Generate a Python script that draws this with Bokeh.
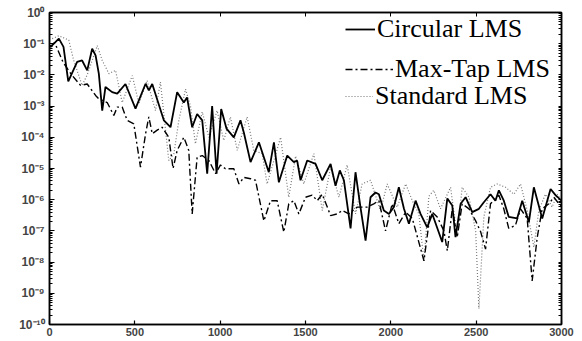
from bokeh.plotting import figure
from bokeh.models import (Range1d, FixedTicker, CustomJSTickFormatter, LinearAxis, LogAxis,
                          Legend, LegendItem)
from bokeh.embed import file_html
from bokeh.resources import INLINE

# ---------------- data ----------------
circ_x = [5, 55, 82, 110, 162, 191, 221, 250, 270, 289, 309, 328, 367, 397, 445, 504, 563, 582, 602,
          670, 709, 748, 787, 806, 836, 865, 895, 924, 953, 979, 1006, 1037, 1080, 1119, 1139, 1178,
          1227, 1285, 1315, 1344, 1393, 1432, 1451, 1471, 1510, 1559, 1598, 1647, 1676, 1701, 1725,
          1764, 1793, 1822, 1852, 1881, 1910, 1930, 1959, 1989, 2018, 2047, 2077, 2106, 2145, 2174,
          2213, 2243, 2301, 2331, 2360, 2379, 2409, 2438, 2477, 2516, 2545, 2584, 2613, 2633, 2662,
          2691, 2740, 2770, 2809, 2838, 2887, 2936, 2965, 3000]
circ_y = [7.8e-2, 1.45e-1, 7.9e-2, 6.2e-3, 2.6e-2, 2.9e-2, 1.4e-2, 6.9e-2, 4.2e-2, 1.1e-2, 7.2e-4,
          4.1e-3, 2.8e-3, 2.5e-3, 5.1e-3, 8.3e-4, 5.2e-3, 3.2e-3, 5.1e-3, 3.5e-4, 2.1e-4, 2.8e-3,
          1.3e-3, 1.9e-3, 2.1e-4, 5.6e-4, 3.5e-4, 6.8e-6, 1.0e-3, 6.8e-6, 8.1e-4, 1.9e-4, 1.0e-4,
          3.5e-4, 1.4e-4, 1.6e-5, 6.9e-5, 7.6e-6, 6.9e-5, 3.6e-6, 2.6e-5, 1.6e-5, 1.8e-5, 4.2e-6,
          1.8e-5, 1.4e-5, 4.2e-6, 1.4e-5, 2.8e-6, 8.7e-6, 4.2e-6, 1.2e-7, 7.6e-6, 5.8e-7, 4.9e-8,
          1.2e-6, 1.7e-6, 1.5e-6, 4.5e-7, 3.5e-7, 5.8e-7, 2.5e-6, 5.1e-7, 1.7e-7, 9.3e-7, 3.5e-7,
          1.3e-7, 3.5e-7, 4.4e-8, 1.1e-6, 6.5e-7, 6.3e-8, 7.4e-7, 1.2e-6, 4.0e-7, 5.1e-7, 8.3e-7,
          1.5e-6, 9.3e-7, 2.0e-6, 9.3e-7, 2.8e-7, 2.5e-7, 9.3e-7, 1.9e-7, 2.5e-6, 2.5e-7, 2.2e-6,
          1.4e-6, 9.3e-7]

maxtap_x = [5, 30, 80, 130, 182, 221, 270, 289, 338, 377, 397, 426, 455, 494, 533, 563, 582, 602,
            631, 660, 699, 724, 748, 787, 816, 836, 865, 895, 934, 973, 1002, 1031, 1080, 1110,
            1139, 1178, 1207, 1256, 1295, 1334, 1373, 1402, 1432, 1461, 1500, 1539, 1569, 1598,
            1647, 1686, 1715, 1754, 1803, 1861, 1900, 1930, 1969, 2008, 2047, 2087, 2126, 2194,
            2233, 2272, 2311, 2331, 2360, 2389, 2418, 2458, 2497, 2526, 2555, 2584, 2633, 2662,
            2691, 2730, 2760, 2799, 2828, 2858, 2887, 2926, 2955, 2985, 3000]
maxtap_y = [7.9e-2, 1.1e-1, 2.5e-2, 1.0e-2, 4.6e-3, 5.1e-3, 2.2e-3, 1.7e-3, 1.3e-3, 5.0e-4, 9.3e-4,
            9.3e-4, 3.5e-4, 2.7e-4, 1.1e-5, 1.3e-4, 4.5e-4, 1.3e-4, 1.7e-4, 2.1e-4, 1.0e-4, 1.0e-5,
            3.8e-5, 1.0e-4, 3.8e-5, 3.5e-7, 2.3e-5, 2.6e-5, 1.8e-5, 6.8e-6, 1.3e-5, 9.8e-6, 9.8e-6,
            3.2e-6, 5.2e-6, 4.7e-6, 4.2e-6, 2.1e-7, 9.3e-7, 9.3e-7, 9.1e-8, 7.4e-7, 9.3e-7, 3.5e-7,
            1.2e-6, 1.4e-6, 9.3e-7, 1.5e-6, 3.1e-7, 3.5e-7, 4.5e-7, 3.5e-7, 5.8e-7, 5.8e-7, 7.4e-7,
            9.3e-7, 1.0e-7, 7.4e-7, 1.7e-7, 4.0e-7, 2.5e-7, 1.1e-8, 4.5e-7, 2.8e-7, 1.0e-7, 2.3e-8,
            5.1e-7, 6.3e-8, 7.4e-7, 5.1e-7, 2.1e-7, 9.5e-8, 2.6e-8, 7.4e-7, 1.4e-6, 5.1e-7, 1.2e-7,
            1.5e-7, 5.1e-7, 2.5e-7, 2.5e-9, 6.3e-8, 5.1e-7, 7.4e-7, 1.2e-6, 7.4e-7, 6.3e-7]

std_x = [16, 55, 113, 142, 191, 221, 280, 309, 348, 387, 426, 485, 524, 572, 621, 650, 699, 729,
         758, 797, 826, 855, 895, 934, 982, 1021, 1060, 1100, 1158, 1197, 1246, 1275, 1315, 1354,
         1402, 1442, 1490, 1549, 1598, 1647, 1696, 1744, 1793, 1832, 1881, 1939, 1979, 2037, 2087,
         2126, 2164, 2194, 2223, 2252, 2291, 2350, 2389, 2418, 2458, 2497, 2516, 2545, 2584, 2623,
         2672, 2721, 2760, 2799, 2838, 2867, 2906, 2945, 2975, 3000]
std_y = [1.45e-1, 1.8e-1, 1.3e-1, 2.9e-2, 4.6e-3, 1.0e-2, 8.7e-2, 2.9e-2, 1.1e-2, 1.4e-2, 1.3e-3,
         9.5e-3, 1.2e-3, 6.6e-3, 7.2e-4, 5.9e-3, 1.8e-5, 3.0e-5, 3.5e-4, 3.5e-3, 1.0e-3, 6.2e-5,
         6.5e-4, 1.0e-4, 7.2e-4, 7.9e-5, 4.5e-4, 3.8e-5, 4.5e-4, 3.8e-5, 3.0e-5, 3.2e-6, 1.8e-5,
         1.0e-4, 1.2e-6, 2.5e-5, 3.2e-6, 3.0e-5, 4.5e-7, 1.1e-5, 1.2e-6, 1.3e-5, 3.5e-7, 3.2e-6,
         4.2e-6, 4.5e-7, 3.2e-6, 5.8e-7, 3.2e-6, 9.3e-7, 3.5e-7, 1.1e-8, 1.3e-6, 2.0e-6, 5.1e-7,
         2.5e-6, 6.3e-8, 2.5e-6, 1.2e-6, 1.0e-7, 3.2e-10, 2.8e-7, 2.5e-6, 3.2e-6, 2.5e-6, 1.5e-6,
         3.2e-6, 4.5e-7, 3.0e-8, 4.5e-7, 1.5e-6, 5.8e-7, 1.5e-6, 9.3e-7]

series_names = ["Circular LMS", "Max-Tap LMS", "Standard LMS"]

xticks = [0, 500, 1000, 1500, 2000, 2500, 3000]
yticks = [1, 1e-1, 1e-2, 1e-3, 1e-4, 1e-5, 1e-6, 1e-7, 1e-8, 1e-9, 1e-10]
ytick_labels = ["10\u2070", "10\u207b\u00b9", "10\u207b\u00b2", "10\u207b\u00b3", "10\u207b\u2074",
                "10\u207b\u2075", "10\u207b\u2076", "10\u207b\u2077", "10\u207b\u2078",
                "10\u207b\u2079", "10\u207b\u00b9\u2070"]
minor_mult = [2, 3, 4, 5, 6, 7, 8, 9]

# ---------------- figure ----------------
p = figure(frame_width=512, frame_height=312, y_axis_type="log",
           x_range=Range1d(0, 3000), y_range=Range1d(1e-10, 1),
           output_backend="svg", toolbar_location=None,
           min_border_left=49, min_border_top=12, min_border_right=13, min_border_bottom=16)
p.background_fill_color = "white"
p.border_fill_color = "white"
p.outline_line_color = "black"
p.outline_line_width = 1.5
p.xgrid.visible = False
p.ygrid.visible = False

y_minor = [m * t for t in yticks[1:] for m in minor_mult]

xa = p.xaxis[0]
xa.ticker = FixedTicker(ticks=xticks, minor_ticks=[])
xa.major_tick_in = 4
xa.major_tick_out = 0
xa.major_label_standoff = 3
xa.major_label_text_font = "Liberation Sans"
xa.major_label_text_font_style = "bold"
xa.major_label_text_font_size = "11px"
xa.axis_line_width = 1.5
xa.major_tick_line_width = 1.2

ya = p.yaxis[0]
ya.ticker = FixedTicker(ticks=yticks, minor_ticks=y_minor)
ya.formatter = CustomJSTickFormatter(args=dict(labels=ytick_labels),
                                     code="return labels[Math.round(-Math.log10(tick))];")
ya.major_tick_in = 5
ya.major_tick_out = 0
ya.minor_tick_in = 3
ya.minor_tick_out = 0
ya.major_label_standoff = 5
ya.major_label_text_font = "Liberation Sans"
ya.major_label_text_font_style = "bold"
ya.major_label_text_font_size = "12px"
ya.axis_line_width = 1.5
ya.major_tick_line_width = 1.2

top_axis = LinearAxis(ticker=FixedTicker(ticks=[], minor_ticks=xticks),
                      minor_tick_in=4, minor_tick_out=0, axis_line_width=1.5)
p.add_layout(top_axis, "above")
right_axis = LogAxis(ticker=FixedTicker(ticks=[], minor_ticks=yticks + y_minor),
                     minor_tick_in=3, minor_tick_out=0, axis_line_width=1.5)
p.add_layout(right_axis, "right")

r_std = p.line(std_x, std_y, line_color="#777777", line_width=1.2, line_dash="1 2")
r_max = p.line(maxtap_x, maxtap_y, line_color="black", line_width=1.4, line_dash="7 3 2 3")
r_circ = p.line(circ_x, circ_y, line_color="black", line_width=1.8)

def make_legend(name, renderer, loc, gw):
    leg = Legend(items=[LegendItem(label=name, renderers=[renderer])], location=loc,
                 padding=0, margin=0, spacing=0, border_line_color=None,
                 background_fill_alpha=0, label_text_font="Liberation Serif",
                 label_text_font_size="26px", label_text_color="black",
                 label_height=26, glyph_height=26, glyph_width=gw, label_standoff=2)
    p.add_layout(leg)

make_legend(series_names[0], r_circ, (296, 280), 30)
make_legend(series_names[1], r_max, (296, 240), 48)
make_legend(series_names[2], r_std, (296, 213), 28)

open("out.html", "w").write(file_html(p, INLINE))
